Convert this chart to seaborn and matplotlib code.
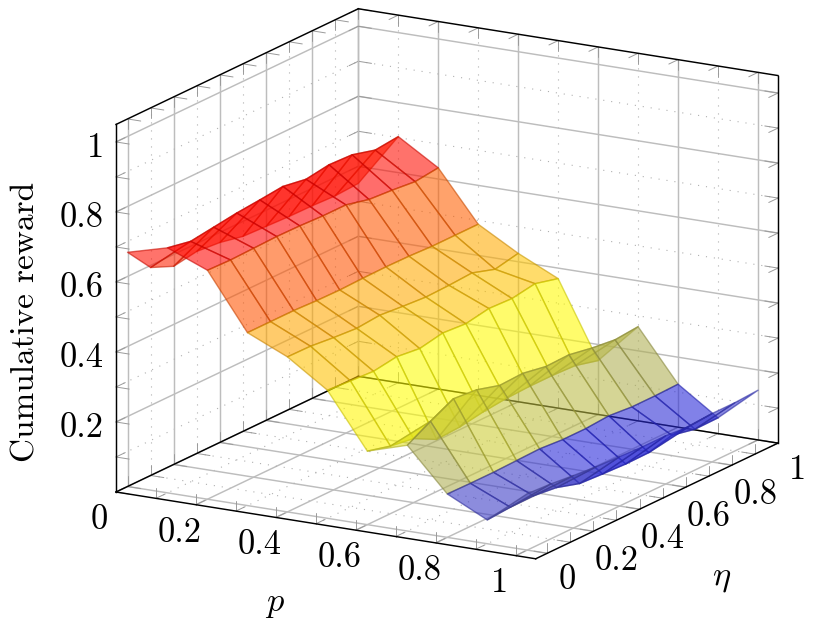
import numpy as np
import matplotlib
matplotlib.use("Agg")
import matplotlib.pyplot as plt
from matplotlib.colors import Normalize
from mpl_toolkits.mplot3d import proj3d
import seaborn as sns

# ---------- data ----------
p_values = [0.0, 0.1, 0.2, 0.3, 0.4, 0.5, 0.6, 0.7, 0.8, 0.9, 1.0]
eta_values = [0.0, 0.1, 0.2, 0.3, 0.4, 0.5, 0.6, 0.7, 0.8, 0.9, 1.0]
reward_p00 = [.669, .594, .566, .577, .571, .557, .554, .551, .550, .547, .551]
reward_p01 = [.700, .687, .696, .705, .711, .718, .707, .717, .714, .696, .703]
reward_p02 = [.654, .652, .654, .656, .655, .652, .652, .636, .631, .624, .632]
reward_p03 = [.494, .494, .494, .491, .490, .492, .493, .492, .489, .489, .489]
reward_p04 = [.443, .442, .435, .430, .436, .430, .425, .427, .431, .410, .424]
reward_p05 = [.366, .361, .357, .367, .359, .372, .367, .379, .376, .387, .370]
reward_p06 = [.210, .193, .183, .149, .153, .164, .171, .174, .174, .171, .154]
reward_p07 = [.245, .282, .315, .309, .290, .293, .281, .283, .271, .263, .269]
reward_p08 = [.124, .123, .123, .125, .127, .122, .122, .127, .121, .121, .123]
reward_p09 = [.068, .073, .074, .066, .046, .042, .039, .040, .058, .044, .045]
reward_p10 = [.161, .157, .150, .144, .141, .138, .138, .132, .138, .138, .142]
p_ticks = ["0", "0.2", "0.4", "0.6", "0.8", "1"]
eta_ticks = ["0", "0.2", "0.4", "0.6", "0.8", "1"]
z_ticks = ["0.2", "0.4", "0.6", "0.8", "1"]
x_label = "$p$"
y_label = r"$\eta$"
z_label = "Cumulative reward"

sns.set_theme(style="white")
plt.rcParams["mathtext.fontset"] = "cm"
plt.rcParams["font.family"] = ["cmr10", "DejaVu Serif"]

W, H = 830, 627
fig = plt.figure(figsize=(W / 100, H / 100), dpi=100)
ax = fig.add_axes([0, 0, 1, 1], projection="3d", proj_type="ortho")
ax.computed_zorder = False
P0, P1, E0, E1, Z0, Z1 = 0.0, 1.05, -0.05, 1.0, 0.0, 1.05
ax.set_xlim(P0, P1)
ax.set_ylim(E0, E1)
ax.set_zlim(Z0, Z1)
ax.set_box_aspect((1, 1, 0.789))
ax.view_init(elev=16, azim=-60)
ax.set_axis_off()


def to_px(x, y, z):
    xp, yp, _ = proj3d.proj_transform(x, y, z, ax.get_proj())
    return ax.transData.transform((xp, yp))


# place the box so its corners fall where the reference has them
L, cx, cy = 700.0, 450.0, 300.0
for _ in range(4):
    ax.set_position([(cx - L / 2) / W, (cy - L / 2) / H, L / W, L / H])
    ax.apply_aspect()
    a = to_px(P0, E0, Z0)
    b = to_px(P1, E1, Z0)
    scale = (778 - 116) / (b[0] - a[0])
    L *= scale
    ax.set_position([(cx - L / 2) / W, (cy - L / 2) / H, L / W, L / H])
    ax.apply_aspect()
    a = to_px(P0, E0, Z0)
    cx += 116 - a[0]
    cy += (H - 492) - a[1]
ax.set_position([(cx - L / 2) / W, (cy - L / 2) / H, L / W, L / H])
ax.apply_aspect()

BLACK = dict(color="black", lw=1.05, zorder=3, clip_on=False, solid_capstyle="projecting")
for xs, ys, zs in [
    ((P0, P0), (E0, E1), (Z0, Z0)), ((P0, P1), (E1, E1), (Z0, Z0)),
    ((P0, P1), (E0, E0), (Z0, Z0)), ((P1, P1), (E0, E1), (Z0, Z0)),
    ((P0, P0), (E0, E0), (Z0, Z1)), ((P1, P1), (E1, E1), (Z0, Z1)),
    ((P0, P0), (E0, E1), (Z1, Z1)), ((P0, P1), (E1, E1), (Z1, Z1)),
]:
    ax.plot(xs, ys, zs, **BLACK)

MAJOR = dict(color="#bdbdbd", lw=1.05, zorder=2, clip_on=False)
MINOR = dict(color="#b0b0b0", lw=0.8, zorder=2, clip_on=False, linestyle=(0, (1, 6.2)))
TICK = dict(color="#9a9a9a", lw=0.7, zorder=2, clip_on=False)
LP, LE, LZ = 0.033, 0.04, 0.03

for i, v in enumerate(np.round(np.arange(0, 1.01, 0.1), 1)):
    st = MAJOR if i % 2 == 0 else MINOR
    # p lines on the floor and on the back wall
    ax.plot((v, v), (E0, E1), (Z0, Z0), **st)
    ax.plot((v, v), (E1, E1), (Z0, Z1), **st)
    # eta lines on the floor and on the side wall
    ax.plot((P0, P1), (v, v), (Z0, Z0), **st)
    ax.plot((P0, P0), (v, v), (Z0, Z1), **st)
    # z lines on both walls
    if i > 0:
        ax.plot((P0, P0), (E0, E1), (v, v), **st)
        ax.plot((P0, P1), (E1, E1), (v, v), **st)
    # ticks along box edges, one into each neighbouring face
    for e, dz, de in [(E0, LZ, LE), (E1, LZ, -LE)]:
        ax.plot((v, v), (e, e), (Z0, Z0 + dz), **TICK)
        ax.plot((v, v), (e, e + de), (Z0, Z0), **TICK)
    ax.plot((v, v), (E1, E1), (Z1, Z1 - LZ), **TICK)
    ax.plot((v, v), (E1, E1 - LE), (Z1, Z1), **TICK)
    for pp, dp in [(P0, LP), (P1, -LP)]:
        ax.plot((pp, pp), (v, v), (Z0, Z0 + LZ), **TICK)
        ax.plot((pp, pp + dp), (v, v), (Z0, Z0), **TICK)
    ax.plot((P0, P0), (v, v), (Z1, Z1 - LZ), **TICK)
    ax.plot((P0, P0 + LP), (v, v), (Z1, Z1), **TICK)
    # z-edge ticks
    ax.plot((P0, P0 + LP), (E0, E0), (v, v), **TICK)
    ax.plot((P0, P0), (E0, E0 + LE), (v, v), **TICK)
    ax.plot((P0, P0), (E1, E1 - LE), (v, v), **TICK)
    ax.plot((P0, P0 + LP), (E1, E1), (v, v), **TICK)
    ax.plot((P1, P1 - LP), (E1, E1), (v, v), **TICK)
    ax.plot((P1, P1), (E1, E1 - LE), (v, v), **TICK)

# surface
reward = np.array([reward_p00, reward_p01, reward_p02, reward_p03, reward_p04, reward_p05,
                   reward_p06, reward_p07, reward_p08, reward_p09, reward_p10])
PP, EE = np.meshgrid(p_values, eta_values, indexing="ij")
means = (reward[:-1, :-1] + reward[1:, :-1] + reward[:-1, 1:] + reward[1:, 1:]) / 4
cmap = sns.blend_palette(["#0000ff", "yellow", "orange", "red"], as_cmap=True)
norm = Normalize(vmin=0.05, vmax=0.68)
face = cmap(norm(means))
face[..., 3] = 0.58
edge = face.copy()
edge[..., :3] *= 0.78
edge[..., 3] = 0.6
surf = ax.plot_surface(PP, EE, reward, rstride=1, cstride=1, facecolors=face,
                       shade=False, linewidth=1.0, antialiased=True, zorder=5)
surf.set_edgecolor(edge.reshape(-1, 4))

# text
FS = 24.8


def label(x, y, z, txt, dx, dy, ha="center"):
    px = to_px(x, y, z)
    fig.text(px[0] + dx, px[1] + dy, txt, transform=None, ha=ha, va="baseline",
             fontsize=FS, color="black")


for v, t in zip([0, .2, .4, .6, .8, 1], p_ticks):
    label(v, E0, Z0, t, -16.5, -25.8 - 11)
for v, t in zip([0, .2, .4, .6, .8, 1], eta_ticks):
    if t in ("0", "1"):
        label(P1, v, Z0, t, 20, -25 - 11)
    else:
        label(P1, v, Z0, t, 23.3, -27.8 - 11)
for v, t in zip([.2, .4, .6, .8, 1], z_ticks):
    label(P0, E0, v, t, -12, -15.5, ha="right")

fig.text(275 / W, 1 - 611 / H, x_label, ha="center", va="baseline", fontsize=FS, color="black")
fig.text(722 / W, 1 - 585 / H, y_label, ha="center", va="baseline", fontsize=FS, color="black")
fig.text(26 / W, 1 - 322 / H, z_label, rotation=90, ha="center", va="center", fontsize=24,
         color="black")

fig.savefig("out.png", dpi=100)
